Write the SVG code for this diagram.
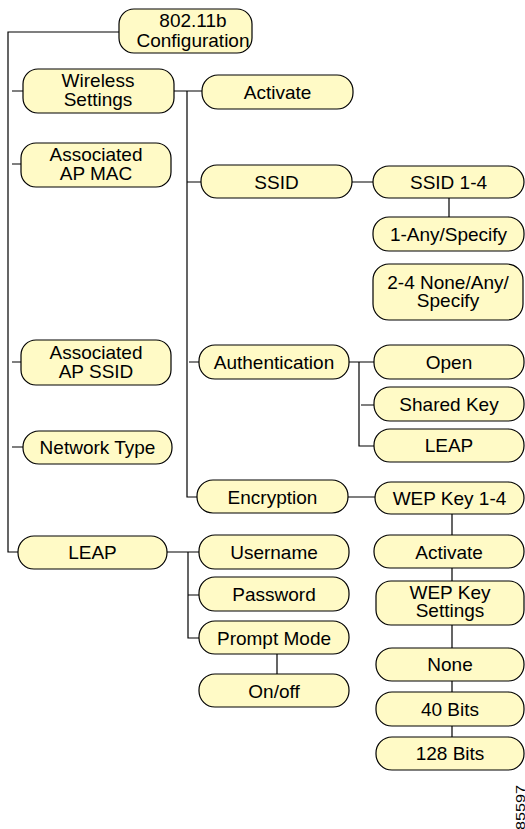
<svg xmlns="http://www.w3.org/2000/svg" width="525" height="829" viewBox="0 0 525 829">
<style>
.n rect{fill:#FFFAC6;stroke:#000;stroke-width:1.2}
.n text{font-family:"Liberation Sans",Arial,sans-serif;font-size:19px;fill:#000;text-anchor:middle}
#connectors path{fill:none;stroke:#000;stroke-width:1.2}
</style>
<rect width="525" height="829" fill="#fff"/>
<g id="connectors">
<path d="M119,32 H8 V552 H18"/>
<path d="M12,91 H23 M12,164 H21 M12,362 H21 M12,447 H23"/>
<path d="M174,91 H202 M187,91 V497 H197 M187,182 H201 M189,362 H199"/>
<path d="M352,182 H373 M449,198 V217"/>
<path d="M349,362 H374 M359,362 V446 H374 M361,405 H374"/>
<path d="M348,497 H375 M452,514 V737"/>
<path d="M167,552 H199 M188,552 V638 H199 M188,595 H199 M277,654 V674"/>
</g>
<g id="root" class="n"><rect x="119" y="9" width="133" height="44" rx="15"/><text x="193" y="27">802.11b</text><text x="193" y="47">Configuration</text></g>
<g id="wireless" class="n"><rect x="23" y="69" width="151" height="44" rx="15"/><text x="98" y="87">Wireless</text><text x="98" y="106">Settings</text></g>
<g id="apmac" class="n"><rect x="21" y="143" width="150" height="44" rx="15"/><text x="96" y="161">Associated</text><text x="96" y="180">AP MAC</text></g>
<g id="apssid" class="n"><rect x="21" y="340" width="150" height="45" rx="15"/><text x="96" y="359">Associated</text><text x="96" y="378">AP SSID</text></g>
<g id="nettype" class="n"><rect x="23" y="431" width="149" height="33" rx="16"/><text x="97.5" y="454">Network Type</text></g>
<g id="leap" class="n"><rect x="18" y="536" width="149" height="33" rx="16"/><text x="92.5" y="559">LEAP</text></g>
<g id="activate" class="n"><rect x="202" y="75" width="151" height="34" rx="16"/><text x="277.5" y="99">Activate</text></g>
<g id="ssid" class="n"><rect x="201" y="165" width="151" height="33" rx="16"/><text x="276.5" y="189">SSID</text></g>
<g id="auth" class="n"><rect x="199" y="345" width="150" height="34" rx="16"/><text x="274" y="369">Authentication</text></g>
<g id="enc" class="n"><rect x="197" y="480" width="151" height="33" rx="16"/><text x="272.5" y="504">Encryption</text></g>
<g id="username" class="n"><rect x="199" y="535" width="150" height="34" rx="16"/><text x="274" y="559">Username</text></g>
<g id="password" class="n"><rect x="199" y="577" width="150" height="34" rx="16"/><text x="274" y="601">Password</text></g>
<g id="prompt" class="n"><rect x="199" y="621" width="150" height="33" rx="16"/><text x="274" y="645">Prompt Mode</text></g>
<g id="onoff" class="n"><rect x="199" y="674" width="150" height="33" rx="16"/><text x="274" y="698">On/off</text></g>
<g id="ssid14" class="n"><rect x="373" y="166" width="151" height="32" rx="16"/><text x="448.5" y="189">SSID 1-4</text></g>
<g id="anyspec" class="n"><rect x="373" y="217" width="151" height="34" rx="16"/><text x="448.5" y="241">1-Any/Specify</text></g>
<g id="none24" class="n"><rect x="373" y="264" width="150" height="56" rx="16"/><text x="448" y="289">2-4 None/Any/</text><text x="448" y="307">Specify</text></g>
<g id="open" class="n"><rect x="374" y="345" width="150" height="34" rx="16"/><text x="449" y="369">Open</text></g>
<g id="shared" class="n"><rect x="374" y="387" width="150" height="34" rx="16"/><text x="449" y="411">Shared Key</text></g>
<g id="authleap" class="n"><rect x="374" y="429" width="150" height="33" rx="16"/><text x="449" y="452">LEAP</text></g>
<g id="wep14" class="n"><rect x="375" y="482" width="149" height="32" rx="16"/><text x="449.5" y="505">WEP Key 1-4</text></g>
<g id="activate2" class="n"><rect x="374" y="535" width="150" height="33" rx="16"/><text x="449" y="559">Activate</text></g>
<g id="wepset" class="n"><rect x="376" y="581" width="148" height="44" rx="15"/><text x="450" y="599">WEP Key</text><text x="450" y="617">Settings</text></g>
<g id="none" class="n"><rect x="376" y="648" width="148" height="33" rx="16"/><text x="450" y="671">None</text></g>
<g id="bits40" class="n"><rect x="376" y="692" width="148" height="34" rx="16"/><text x="450" y="716">40 Bits</text></g>
<g id="bits128" class="n"><rect x="376" y="737" width="148" height="33" rx="16"/><text x="450" y="760">128 Bits</text></g>
<text transform="translate(525,830) rotate(-90)" font-family="Liberation Sans,Arial,sans-serif" font-size="12" textLength="45" lengthAdjust="spacingAndGlyphs">85597</text>
</svg>
